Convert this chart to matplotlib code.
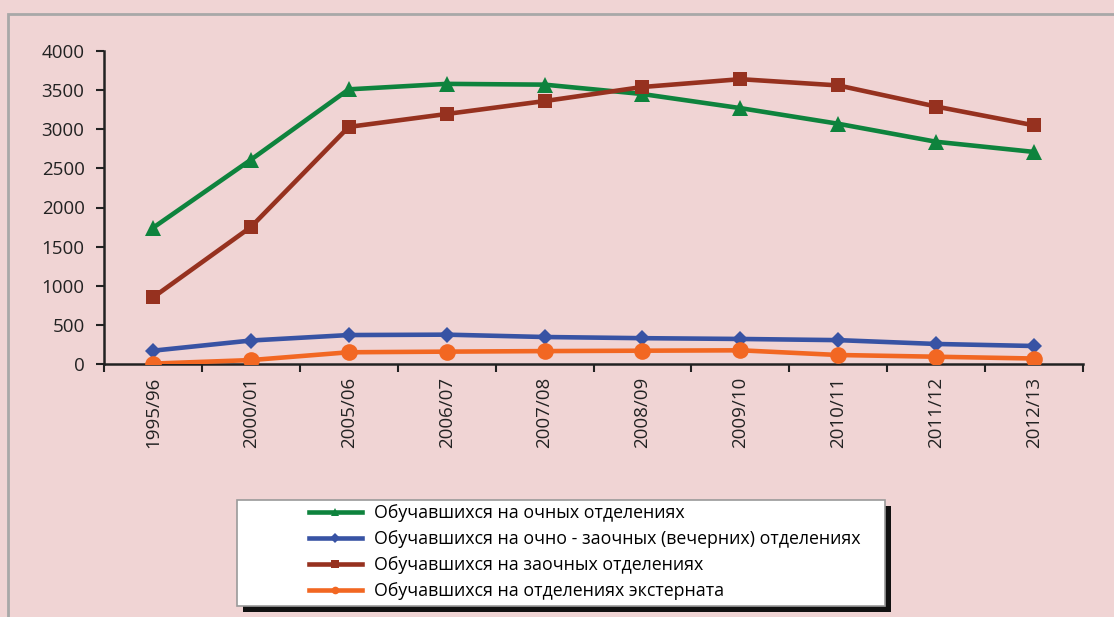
import matplotlib
matplotlib.use("Agg")
import matplotlib.pyplot as plt
from matplotlib.patches import Rectangle
from matplotlib.lines import Line2D

categories = ["1995/96", "2000/01", "2005/06", "2006/07", "2007/08",
              "2008/09", "2009/10", "2010/11", "2011/12", "2012/13"]
full_time = [1740, 2610, 3510, 3580, 3570, 3450, 3270, 3070, 2840, 2710]
evening = [170, 300, 370, 375, 345, 330, 320, 305, 256, 230]
extramural = [850, 1750, 3030, 3195, 3360, 3540, 3640, 3560, 3290, 3050]
external = [5, 50, 150, 158, 165, 170, 175, 115, 93, 70]

labels = ["Обучавшихся на очных отделениях",
          "Обучавшихся на очно - заочных (вечерних) отделениях",
          "Обучавшихся на заочных отделениях",
          "Обучавшихся на отделениях экстерната"]
y_ticks = [0, 500, 1000, 1500, 2000, 2500, 3000, 3500, 4000]

plt.rcParams['font.family'] = ['Open Sans', 'DejaVu Sans']

W, H = 1114, 617
fig = plt.figure(figsize=(W / 100, H / 100), dpi=100)
bg = "#F0D4D4"
fig.patch.set_facecolor(bg)

# outer gray border
fig.add_artist(Rectangle((8 / W, -0.1), 1.2, 1 - 14 / H + 0.1, transform=fig.transFigure,
                         fill=False, edgecolor="#A8A8A8", linewidth=2))

ax = fig.add_axes([104 / W, 1 - 364 / H, (1083 - 104) / W, (364 - 51) / H])
ax.set_facecolor(bg)

x = list(range(len(categories)))
series = [
    (full_time, "#0E833D", "^", 12),
    (evening, "#3853A4", "D", 8.5),
    (extramural, "#96311F", "s", 10),
    (external, "#F26722", "o", 12),
]
handles = []
for (vals, col, mk, ms), lab in zip(series, labels):
    ax.plot(x, vals, color=col, linewidth=3.3, marker=mk, markersize=ms,
            markeredgewidth=0, zorder=3)
    handles.append(Line2D([0], [0], color=col, linewidth=3.3, marker=mk,
                          markersize=5.5, markeredgewidth=0, label=lab))

ax.set_xlim(-0.5, len(categories) - 0.5)
ax.set_ylim(0, 4000)
ax.set_yticks(y_ticks)
ax.set_yticklabels([str(v) for v in y_ticks], fontsize=13.5, color="#222222")
ax.set_xticks([i - 0.5 for i in range(len(categories) + 1)])
ax.set_xticklabels([])
ax.set_xticks(x, minor=True)
ax.set_xticklabels(categories, minor=True, rotation=90, fontsize=13.5, color="#222222")
ax.tick_params(axis="x", which="minor", length=0, pad=9)
ax.tick_params(axis="x", which="major", length=6, width=1.5, color="#222222", direction="out")
ax.tick_params(axis="y", length=6, width=1.5, color="#222222", direction="out", pad=8)
for s in ["top", "right"]:
    ax.spines[s].set_visible(False)
for s in ["left", "bottom"]:
    ax.spines[s].set_linewidth(1.8)
    ax.spines[s].set_color("#222222")

# legend frame with shadow
lx0, ly0, lx1, ly1 = 237, 500, 885, 606
fig.add_artist(Rectangle(((lx0 + 6) / W, 1 - (ly1 + 6) / H), (lx1 - lx0) / W, (ly1 - ly0) / H,
                         transform=fig.transFigure, facecolor="#111111", edgecolor="none"))
fig.add_artist(Rectangle((lx0 / W, 1 - ly1 / H), (lx1 - lx0) / W, (ly1 - ly0) / H,
                         transform=fig.transFigure, facecolor="white", edgecolor="#9A9A9A",
                         linewidth=1.2))
leg = fig.legend(handles=handles, loc="upper left", bbox_to_anchor=(302 / W, 1 - 497 / H),
                 frameon=False, fontsize=12.8, handlelength=2.95, handletextpad=0.7,
                 labelspacing=0.45, borderaxespad=0)

fig.savefig("out.png", dpi=100, facecolor=bg)
